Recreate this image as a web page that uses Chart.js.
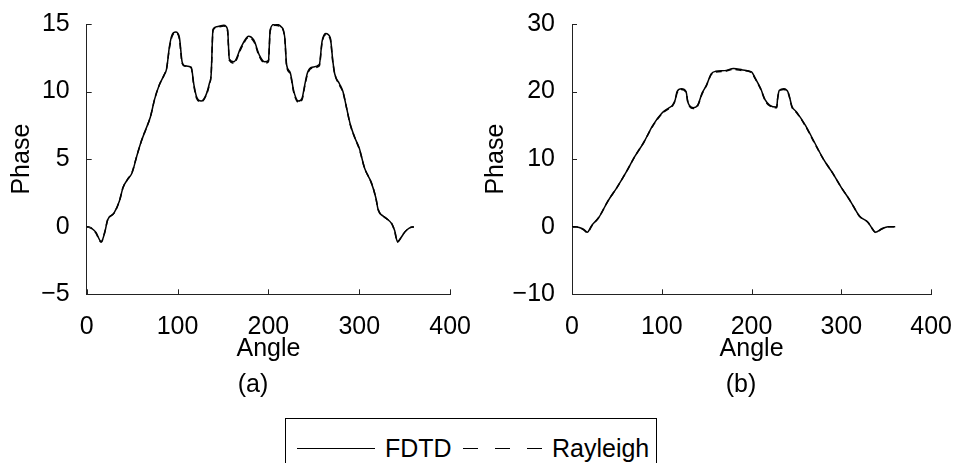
<!DOCTYPE html>
<html lang="en">
<head>
    <meta charset="UTF-8">
    <title>Phase vs Angle</title>
    <script src="https://cdn.jsdelivr.net/npm/chart.js"></script>
    <style>
        body { margin: 0; background: #fff; font-family: "Liberation Sans", Arial, sans-serif; }
        #page { position: relative; width: 962px; height: 463px; overflow: hidden; }
        canvas { position: absolute; top: 0; }
        .cap { position: absolute; font-size: 25px; color: #000; transform: translate(-50%, -50%); }
        #legend { position: absolute; left: 285px; top: 418px; width: 372px; height: 70px;
                  border: 1.5px solid #000; box-sizing: border-box; }
        #legend span.txt { position: absolute; top: 14px; font-size: 25px; line-height: 30px; }
        .sw { position: absolute; top: 29px; height: 0; border-top: 1.5px solid #000; }
        .dash { position: absolute; top: 29px; height: 0; width: 15px; border-top: 1.5px solid #000; }
    </style>
</head>
<body>
<div id="page">
    <canvas id="chartA" width="481" height="380" style="left:0"></canvas>
    <canvas id="chartB" width="481" height="380" style="left:481px"></canvas>
    <div class="cap" style="left:253px; top:383px">(a)</div>
    <div class="cap" style="left:741px; top:383px">(b)</div>
    <div id="legend">
        <div class="sw" style="left:11px; width:78px"></div>
        <span class="txt" style="left:99px">FDTD</span>
        <div class="dash" style="left:177px"></div>
        <div class="dash" style="left:209px"></div>
        <div class="dash" style="left:241px"></div>
        <span class="txt" style="left:266px">Rayleigh</span>
    </div>
</div>

<script>
    // (a) phase vs angle
    const angleA = [0, 5, 10, 16, 20, 23, 30, 36, 40, 45,
        50, 55, 60, 65, 70, 75, 80, 85, 88, 91,
        94, 98, 102, 105, 108, 115, 118, 121, 126, 131,
        135, 137, 139, 143, 151, 155, 157, 162, 170, 178,
        184, 190, 196, 200, 202, 207, 214, 218, 220, 224,
        228, 233, 237, 240, 243, 248, 256, 259, 263, 268,
        271, 273, 278, 282, 286, 290, 295, 300, 306, 313,
        318, 321, 326, 330, 336, 339, 342, 346, 350, 355,
        360];
    const fdtdA = [0, -0.1, -0.4, -1.1, -0.4, 0.5, 1.0, 1.9, 2.9, 3.5,
        4.0, 5.2, 6.3, 7.2, 8.1, 9.5, 10.5, 11.2, 11.7, 13.3,
        14.2, 14.4, 14.0, 12.2, 11.9, 11.8, 10.5, 9.6, 9.3, 9.7,
        10.6, 11.3, 14.6, 14.8, 14.9, 14.6, 12.4, 12.2, 13.3, 14.1,
        13.8, 12.7, 12.2, 12.3, 14.6, 15.0, 14.8, 14.0, 12.0, 11.4,
        10.0, 9.3, 9.5, 10.5, 11.4, 11.8, 12.0, 13.7, 14.3, 14.0,
        12.2, 11.3, 10.6, 10.0, 8.8, 7.6, 6.6, 5.8, 4.3, 3.3,
        2.2, 1.2, 0.8, 0.6, 0.2, -0.3, -1.1, -0.8, -0.4, -0.1,
        0];
    const rayleighA = [0, -0.1, -0.45, -1.15, -0.35, 0.5, 1.0, 1.9, 2.9, 3.5,
        4.05, 5.2, 6.3, 7.2, 8.1, 9.5, 10.5, 11.2, 11.75, 13.2,
        14.1, 14.35, 13.9, 12.1, 11.9, 11.75, 10.4, 9.5, 9.25, 9.65,
        10.5, 11.3, 14.5, 14.75, 14.85, 14.5, 12.3, 12.1, 13.2, 14.0,
        13.7, 12.6, 12.1, 12.2, 14.5, 14.9, 14.75, 13.9, 11.9, 11.3,
        9.9, 9.2, 9.4, 10.4, 11.3, 11.75, 11.9, 13.6, 14.2, 13.9,
        12.1, 11.3, 10.5, 9.95, 8.8, 7.55, 6.6, 5.75, 4.3, 3.3,
        2.2, 1.25, 0.8, 0.6, 0.2, -0.35, -1.15, -0.8, -0.4, -0.1,
        0];

    // (b) phase vs angle
    const angleB = [0, 8, 13, 17, 22, 30, 40, 50, 60, 70,
        80, 90, 100, 108, 112, 115, 117, 122, 127, 129,
        131, 135, 140, 145, 150, 155, 160, 170, 180, 190,
        200, 204, 210, 215, 220, 228, 229, 231, 236, 241,
        245, 250, 260, 270, 280, 290, 300, 310, 320, 330,
        334, 338, 345, 352, 360];
    const fdtdB = [0, -0.1, -0.4, -0.8, 0.2, 1.4, 3.8, 5.8, 8.0, 10.4,
        12.5, 15.0, 16.8, 17.6, 18.0, 18.8, 20.0, 20.4, 20.0, 18.5,
        17.9, 17.6, 18.0, 19.8, 21.0, 22.6, 23.0, 23.1, 23.4, 23.2,
        22.9, 22.0, 20.5, 18.8, 18.0, 17.7, 19.0, 20.2, 20.4, 19.8,
        17.8, 17.0, 15.0, 12.5, 10.0, 8.0, 5.8, 3.8, 1.6, 0.6,
        -0.2, -0.8, -0.3, 0, 0];
    const rayleighB = [0, -0.1, -0.45, -0.85, 0.1, 1.4, 3.8, 5.8, 8.0, 10.4,
        12.5, 14.9, 16.7, 17.5, 17.9, 18.7, 19.8, 20.3, 19.9, 18.4,
        17.8, 17.5, 17.9, 19.7, 21.0, 22.5, 22.9, 23.0, 23.3, 23.1,
        22.8, 21.9, 20.4, 18.7, 17.9, 17.6, 18.9, 20.1, 20.3, 19.7,
        17.7, 16.9, 14.9, 12.4, 10.0, 8.0, 5.8, 3.8, 1.6, 0.6,
        -0.25, -0.85, -0.35, 0, 0];

    const xTicks = [0, 100, 200, 300, 400];
    const yTicksA = [-5, 0, 5, 10, 15];
    const yTicksB = [-10, 0, 10, 20, 30];

    const FONT = { family: '"Liberation Sans", Arial, sans-serif', size: 25 };

    function pts(xs, ys) {
        return xs.map((x, i) => ({ x: x, y: ys[i] }));
    }

    // matlab-style ticks that point into the plot
    const inwardTicks = {
        id: 'inwardTicks',
        afterDraw(chart) {
            const { ctx, chartArea: a, scales: { x, y } } = chart;
            ctx.save();
            ctx.strokeStyle = '#222';
            ctx.lineWidth = 1;
            ctx.beginPath();
            x.ticks.forEach(t => {
                const px = Math.round(x.getPixelForValue(t.value)) + 0.5;
                ctx.moveTo(px, a.bottom);
                ctx.lineTo(px, a.bottom - 5);
            });
            y.ticks.forEach(t => {
                const py = Math.round(y.getPixelForValue(t.value)) + 0.5;
                ctx.moveTo(a.left, py);
                ctx.lineTo(a.left + 5, py);
            });
            ctx.stroke();
            ctx.restore();
        }
    };

    function makeChart(id, xs, solid, dashed, yTicks, yWidth, padRight, yTitlePad) {
        const ymin = yTicks[0], ymax = yTicks[yTicks.length - 1];
        return new Chart(document.getElementById(id), {
            type: 'line',
            data: {
                datasets: [
                    { label: 'FDTD', data: pts(xs, solid), borderColor: '#000', borderWidth: 1.5 },
                    { label: 'Rayleigh', data: pts(xs, dashed), borderColor: '#000', borderWidth: 1.5, borderDash: [6, 4] }
                ]
            },
            options: {
                responsive: false,
                animation: false,
                layout: { padding: { top: 19, right: padRight, left: 0, bottom: 0 } },
                elements: {
                    point: { radius: 0 },
                    line: { cubicInterpolationMode: 'monotone', fill: false }
                },
                plugins: { legend: { display: false }, tooltip: { enabled: false } },
                scales: {
                    x: {
                        type: 'linear', min: 0, max: 400,
                        afterBuildTicks: s => { s.ticks = xTicks.map(v => ({ value: v })); },
                        afterFit: s => { s.height = 85.7; },
                        ticks: { font: FONT, color: '#000', padding: 10, maxRotation: 0 },
                        grid: { display: false },
                        border: { color: '#222', width: 1 },
                        title: { display: true, text: 'Angle', font: FONT, color: '#000', padding: { bottom: 16 } }
                    },
                    y: {
                        type: 'linear', min: ymin, max: ymax,
                        afterBuildTicks: s => { s.ticks = yTicks.map(v => ({ value: v })); },
                        afterFit: s => { s.width = yWidth; },
                        ticks: {
                            font: FONT, color: '#000', padding: 9,
                            callback: v => (v < 0 ? '\u2212' + Math.abs(v) : String(v))
                        },
                        grid: { display: false },
                        border: { color: '#222', width: 1 },
                        title: { display: true, text: 'Phase', font: FONT, color: '#000', padding: { top: yTitlePad } }
                    }
                }
            },
            plugins: [inwardTicks]
        });
    }

    makeChart('chartA', angleA, fdtdA, rayleighA, yTicksA, 86.7, 29.3, 7);
    makeChart('chartB', angleB, fdtdB, rayleighB, yTicksB, 91, 23.7, 0);
</script>
</body>
</html>
